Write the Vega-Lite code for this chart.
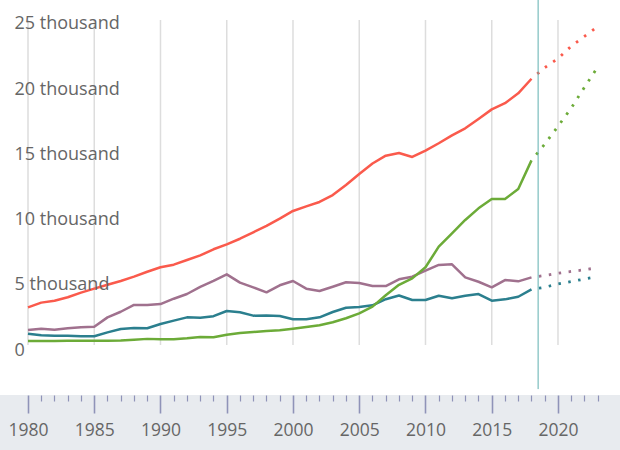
{
  "$schema": "https://vega.github.io/schema/vega-lite/v6.json",
  "autosize": "none",
  "width": 620,
  "height": 395,
  "padding": {"left": 0, "right": 0, "top": 0, "bottom": 55},
  "background": "#e8ebef",
  "config": {"font": "Open Sans", "view": {"fill": "white", "stroke": null}},
  "datasets": {
    "grid": [{"year": 1980}, {"year": 1985}, {"year": 1990}, {"year": 1995}, {"year": 2000}, {"year": 2005}, {"year": 2010}, {"year": 2015}, {"year": 2020}],
    "marker": [{"year": 2018.5}],
    "ylabels": [{"v": 0, "t": "0"}, {"v": 5, "t": "5 thousand"}, {"v": 10, "t": "10 thousand"}, {"v": 15, "t": "15 thousand"}, {"v": 20, "t": "20 thousand"}, {"v": 25, "t": "25 thousand"}],
    "series": [
      {"s": "red", "k": "actual", "year": 1980, "v": 3.12}, {"s": "red", "k": "actual", "year": 1981, "v": 3.48}, {"s": "red", "k": "actual", "year": 1982, "v": 3.63}, {"s": "red", "k": "actual", "year": 1983, "v": 3.89}, {"s": "red", "k": "actual", "year": 1984, "v": 4.25}, {"s": "red", "k": "actual", "year": 1985, "v": 4.55}, {"s": "red", "k": "actual", "year": 1986, "v": 4.85}, {"s": "red", "k": "actual", "year": 1987, "v": 5.14}, {"s": "red", "k": "actual", "year": 1988, "v": 5.47}, {"s": "red", "k": "actual", "year": 1989, "v": 5.85}, {"s": "red", "k": "actual", "year": 1990, "v": 6.19}, {"s": "red", "k": "actual", "year": 1991, "v": 6.39}, {"s": "red", "k": "actual", "year": 1992, "v": 6.75}, {"s": "red", "k": "actual", "year": 1993, "v": 7.1}, {"s": "red", "k": "actual", "year": 1994, "v": 7.57}, {"s": "red", "k": "actual", "year": 1995, "v": 7.95}, {"s": "red", "k": "actual", "year": 1996, "v": 8.38}, {"s": "red", "k": "actual", "year": 1997, "v": 8.87}, {"s": "red", "k": "actual", "year": 1998, "v": 9.36}, {"s": "red", "k": "actual", "year": 1999, "v": 9.92}, {"s": "red", "k": "actual", "year": 2000, "v": 10.51}, {"s": "red", "k": "actual", "year": 2001, "v": 10.86}, {"s": "red", "k": "actual", "year": 2002, "v": 11.2}, {"s": "red", "k": "actual", "year": 2003, "v": 11.73}, {"s": "red", "k": "actual", "year": 2004, "v": 12.5}, {"s": "red", "k": "actual", "year": 2005, "v": 13.35}, {"s": "red", "k": "actual", "year": 2006, "v": 14.15}, {"s": "red", "k": "actual", "year": 2007, "v": 14.75}, {"s": "red", "k": "actual", "year": 2008, "v": 14.95}, {"s": "red", "k": "actual", "year": 2009, "v": 14.65}, {"s": "red", "k": "actual", "year": 2010, "v": 15.13}, {"s": "red", "k": "actual", "year": 2011, "v": 15.7}, {"s": "red", "k": "actual", "year": 2012, "v": 16.31}, {"s": "red", "k": "actual", "year": 2013, "v": 16.85}, {"s": "red", "k": "actual", "year": 2014, "v": 17.56}, {"s": "red", "k": "actual", "year": 2015, "v": 18.3}, {"s": "red", "k": "actual", "year": 2016, "v": 18.77}, {"s": "red", "k": "actual", "year": 2017, "v": 19.53}, {"s": "red", "k": "actual", "year": 2018, "v": 20.65},
      {"s": "red", "k": "proj", "year": 2018, "v": 20.65}, {"s": "red", "k": "proj", "year": 2019, "v": 21.5}, {"s": "red", "k": "proj", "year": 2020, "v": 22.2}, {"s": "red", "k": "proj", "year": 2021, "v": 23.15}, {"s": "red", "k": "proj", "year": 2022, "v": 23.9}, {"s": "red", "k": "proj", "year": 2023, "v": 24.65},
      {"s": "purple", "k": "actual", "year": 1980, "v": 1.38}, {"s": "purple", "k": "actual", "year": 1981, "v": 1.48}, {"s": "purple", "k": "actual", "year": 1982, "v": 1.4}, {"s": "purple", "k": "actual", "year": 1983, "v": 1.51}, {"s": "purple", "k": "actual", "year": 1984, "v": 1.59}, {"s": "purple", "k": "actual", "year": 1985, "v": 1.63}, {"s": "purple", "k": "actual", "year": 1986, "v": 2.35}, {"s": "purple", "k": "actual", "year": 1987, "v": 2.78}, {"s": "purple", "k": "actual", "year": 1988, "v": 3.3}, {"s": "purple", "k": "actual", "year": 1989, "v": 3.3}, {"s": "purple", "k": "actual", "year": 1990, "v": 3.37}, {"s": "purple", "k": "actual", "year": 1991, "v": 3.78}, {"s": "purple", "k": "actual", "year": 1992, "v": 4.14}, {"s": "purple", "k": "actual", "year": 1993, "v": 4.68}, {"s": "purple", "k": "actual", "year": 1994, "v": 5.15}, {"s": "purple", "k": "actual", "year": 1995, "v": 5.65}, {"s": "purple", "k": "actual", "year": 1996, "v": 5.01}, {"s": "purple", "k": "actual", "year": 1997, "v": 4.65}, {"s": "purple", "k": "actual", "year": 1998, "v": 4.27}, {"s": "purple", "k": "actual", "year": 1999, "v": 4.81}, {"s": "purple", "k": "actual", "year": 2000, "v": 5.14}, {"s": "purple", "k": "actual", "year": 2001, "v": 4.55}, {"s": "purple", "k": "actual", "year": 2002, "v": 4.37}, {"s": "purple", "k": "actual", "year": 2003, "v": 4.7}, {"s": "purple", "k": "actual", "year": 2004, "v": 5.04}, {"s": "purple", "k": "actual", "year": 2005, "v": 4.98}, {"s": "purple", "k": "actual", "year": 2006, "v": 4.75}, {"s": "purple", "k": "actual", "year": 2007, "v": 4.75}, {"s": "purple", "k": "actual", "year": 2008, "v": 5.27}, {"s": "purple", "k": "actual", "year": 2009, "v": 5.47}, {"s": "purple", "k": "actual", "year": 2010, "v": 5.93}, {"s": "purple", "k": "actual", "year": 2011, "v": 6.37}, {"s": "purple", "k": "actual", "year": 2012, "v": 6.42}, {"s": "purple", "k": "actual", "year": 2013, "v": 5.42}, {"s": "purple", "k": "actual", "year": 2014, "v": 5.08}, {"s": "purple", "k": "actual", "year": 2015, "v": 4.65}, {"s": "purple", "k": "actual", "year": 2016, "v": 5.21}, {"s": "purple", "k": "actual", "year": 2017, "v": 5.11}, {"s": "purple", "k": "actual", "year": 2018, "v": 5.42},
      {"s": "purple", "k": "proj", "year": 2018, "v": 5.42}, {"s": "purple", "k": "proj", "year": 2019, "v": 5.56}, {"s": "purple", "k": "proj", "year": 2020, "v": 5.73}, {"s": "purple", "k": "proj", "year": 2021, "v": 5.87}, {"s": "purple", "k": "proj", "year": 2022, "v": 6.0}, {"s": "purple", "k": "proj", "year": 2023, "v": 6.16},
      {"s": "teal", "k": "actual", "year": 1980, "v": 1.1}, {"s": "teal", "k": "actual", "year": 1981, "v": 0.97}, {"s": "teal", "k": "actual", "year": 1982, "v": 0.94}, {"s": "teal", "k": "actual", "year": 1983, "v": 0.94}, {"s": "teal", "k": "actual", "year": 1984, "v": 0.9}, {"s": "teal", "k": "actual", "year": 1985, "v": 0.9}, {"s": "teal", "k": "actual", "year": 1986, "v": 1.2}, {"s": "teal", "k": "actual", "year": 1987, "v": 1.46}, {"s": "teal", "k": "actual", "year": 1988, "v": 1.53}, {"s": "teal", "k": "actual", "year": 1989, "v": 1.51}, {"s": "teal", "k": "actual", "year": 1990, "v": 1.84}, {"s": "teal", "k": "actual", "year": 1991, "v": 2.1}, {"s": "teal", "k": "actual", "year": 1992, "v": 2.35}, {"s": "teal", "k": "actual", "year": 1993, "v": 2.32}, {"s": "teal", "k": "actual", "year": 1994, "v": 2.44}, {"s": "teal", "k": "actual", "year": 1995, "v": 2.84}, {"s": "teal", "k": "actual", "year": 1996, "v": 2.74}, {"s": "teal", "k": "actual", "year": 1997, "v": 2.48}, {"s": "teal", "k": "actual", "year": 1998, "v": 2.5}, {"s": "teal", "k": "actual", "year": 1999, "v": 2.45}, {"s": "teal", "k": "actual", "year": 2000, "v": 2.2}, {"s": "teal", "k": "actual", "year": 2001, "v": 2.2}, {"s": "teal", "k": "actual", "year": 2002, "v": 2.35}, {"s": "teal", "k": "actual", "year": 2003, "v": 2.76}, {"s": "teal", "k": "actual", "year": 2004, "v": 3.09}, {"s": "teal", "k": "actual", "year": 2005, "v": 3.14}, {"s": "teal", "k": "actual", "year": 2006, "v": 3.27}, {"s": "teal", "k": "actual", "year": 2007, "v": 3.74}, {"s": "teal", "k": "actual", "year": 2008, "v": 4.03}, {"s": "teal", "k": "actual", "year": 2009, "v": 3.68}, {"s": "teal", "k": "actual", "year": 2010, "v": 3.68}, {"s": "teal", "k": "actual", "year": 2011, "v": 4.01}, {"s": "teal", "k": "actual", "year": 2012, "v": 3.81}, {"s": "teal", "k": "actual", "year": 2013, "v": 4.01}, {"s": "teal", "k": "actual", "year": 2014, "v": 4.14}, {"s": "teal", "k": "actual", "year": 2015, "v": 3.63}, {"s": "teal", "k": "actual", "year": 2016, "v": 3.73}, {"s": "teal", "k": "actual", "year": 2017, "v": 3.93}, {"s": "teal", "k": "actual", "year": 2018, "v": 4.5},
      {"s": "teal", "k": "proj", "year": 2018, "v": 4.5}, {"s": "teal", "k": "proj", "year": 2019, "v": 4.66}, {"s": "teal", "k": "proj", "year": 2020, "v": 4.91}, {"s": "teal", "k": "proj", "year": 2021, "v": 5.1}, {"s": "teal", "k": "proj", "year": 2022, "v": 5.29}, {"s": "teal", "k": "proj", "year": 2023, "v": 5.48},
      {"s": "green", "k": "actual", "year": 1980, "v": 0.54}, {"s": "green", "k": "actual", "year": 1981, "v": 0.54}, {"s": "green", "k": "actual", "year": 1982, "v": 0.54}, {"s": "green", "k": "actual", "year": 1983, "v": 0.55}, {"s": "green", "k": "actual", "year": 1984, "v": 0.55}, {"s": "green", "k": "actual", "year": 1985, "v": 0.55}, {"s": "green", "k": "actual", "year": 1986, "v": 0.55}, {"s": "green", "k": "actual", "year": 1987, "v": 0.57}, {"s": "green", "k": "actual", "year": 1988, "v": 0.64}, {"s": "green", "k": "actual", "year": 1989, "v": 0.7}, {"s": "green", "k": "actual", "year": 1990, "v": 0.67}, {"s": "green", "k": "actual", "year": 1991, "v": 0.68}, {"s": "green", "k": "actual", "year": 1992, "v": 0.74}, {"s": "green", "k": "actual", "year": 1993, "v": 0.85}, {"s": "green", "k": "actual", "year": 1994, "v": 0.82}, {"s": "green", "k": "actual", "year": 1995, "v": 1.02}, {"s": "green", "k": "actual", "year": 1996, "v": 1.15}, {"s": "green", "k": "actual", "year": 1997, "v": 1.23}, {"s": "green", "k": "actual", "year": 1998, "v": 1.3}, {"s": "green", "k": "actual", "year": 1999, "v": 1.36}, {"s": "green", "k": "actual", "year": 2000, "v": 1.48}, {"s": "green", "k": "actual", "year": 2001, "v": 1.61}, {"s": "green", "k": "actual", "year": 2002, "v": 1.74}, {"s": "green", "k": "actual", "year": 2003, "v": 1.97}, {"s": "green", "k": "actual", "year": 2004, "v": 2.28}, {"s": "green", "k": "actual", "year": 2005, "v": 2.66}, {"s": "green", "k": "actual", "year": 2006, "v": 3.17}, {"s": "green", "k": "actual", "year": 2007, "v": 4.04}, {"s": "green", "k": "actual", "year": 2008, "v": 4.85}, {"s": "green", "k": "actual", "year": 2009, "v": 5.34}, {"s": "green", "k": "actual", "year": 2010, "v": 6.19}, {"s": "green", "k": "actual", "year": 2011, "v": 7.77}, {"s": "green", "k": "actual", "year": 2012, "v": 8.79}, {"s": "green", "k": "actual", "year": 2013, "v": 9.82}, {"s": "green", "k": "actual", "year": 2014, "v": 10.71}, {"s": "green", "k": "actual", "year": 2015, "v": 11.43}, {"s": "green", "k": "actual", "year": 2016, "v": 11.43}, {"s": "green", "k": "actual", "year": 2017, "v": 12.19}, {"s": "green", "k": "actual", "year": 2018, "v": 14.39},
      {"s": "green", "k": "proj", "year": 2018, "v": 14.39}, {"s": "green", "k": "proj", "year": 2019, "v": 15.64}, {"s": "green", "k": "proj", "year": 2020, "v": 17.0}, {"s": "green", "k": "proj", "year": 2021, "v": 18.4}, {"s": "green", "k": "proj", "year": 2022, "v": 20.0}, {"s": "green", "k": "proj", "year": 2023, "v": 21.55}
    ]
  },
  "encoding": {
    "x": {
      "field": "year", "type": "quantitative",
      "scale": {"domain": [1977.887, 2024.68], "nice": false, "zero": false},
      "axis": {
        "title": null, "domain": false, "grid": false, "format": "d",
        "values": [1980, 1981, 1982, 1983, 1984, 1985, 1986, 1987, 1988, 1989, 1990, 1991, 1992, 1993, 1994, 1995, 1996, 1997, 1998, 1999, 2000, 2001, 2002, 2003, 2004, 2005, 2006, 2007, 2008, 2009, 2010, 2011, 2012, 2013, 2014, 2015, 2016, 2017, 2018, 2019, 2020, 2021, 2022, 2023],
        "labelExpr": "datum.value % 5 === 0 ? datum.label : ''",
        "tickColor": "#8f93b8",
        "tickSize": {"condition": {"test": "datum.value % 5 === 0", "value": 18}, "value": 6},
        "tickWidth": {"condition": {"test": "datum.value % 5 === 0", "value": 1.6}, "value": 1.2},
        "labelPadding": 22, "labelBaseline": "alphabetic",
        "labelFontSize": 17.5, "labelColor": "#666666", "labelFont": "Open Sans",
        "labelFlush": false, "labelOverlap": false
      }
    }
  },
  "layer": [
    {
      "data": {"name": "grid"},
      "mark": {"type": "rule", "color": "#dddddd", "strokeWidth": 1.5},
      "encoding": {"y": {"datum": 0.23, "type": "quantitative"}, "y2": {"datum": 25.15}}
    },
    {
      "data": {"name": "series"},
      "transform": [{"filter": "datum.k === 'actual'"}],
      "mark": {"type": "line", "strokeWidth": 2.5, "strokeJoin": "round"},
      "encoding": {
        "y": {
          "field": "v", "type": "quantitative",
          "scale": {"domain": [-3.604, 26.687], "nice": false, "zero": false},
          "axis": {
            "title": null, "domain": false, "ticks": false, "tickSize": 0, "grid": false, "zindex": 1,
            "values": [0, 5, 10, 15, 20, 25],
            "labelExpr": "datum.value === 0 ? '0' : datum.value + ' thousand'",
            "labelAlign": "left", "labelBaseline": "middle", "labelPadding": -14, "labelOffset": 2,
            "labelFontSize": 18, "labelColor": "#666666", "labelFont": "Open Sans"
          }
        },
        "color": {"field": "s", "type": "nominal", "legend": null,
          "scale": {"domain": ["red", "purple", "teal", "green"], "range": ["#fa5a4c", "#a0718e", "#2b7f8e", "#6cab38"]}},
        "detail": {"field": "s"}
      }
    },
    {
      "data": {"name": "series"},
      "transform": [{"filter": "datum.k === 'proj'"}],
      "mark": {"type": "line", "strokeWidth": 2.8, "strokeDash": [2.5, 7.5], "strokeDashOffset": 2.5},
      "encoding": {
        "y": {"field": "v", "type": "quantitative"},
        "color": {"field": "s", "type": "nominal", "legend": null},
        "detail": {"field": "s"}
      }
    },
    {
      "data": {"name": "marker"},
      "mark": {"type": "rule", "color": "#5fb0b0", "strokeWidth": 1},
      "encoding": {"y": {"datum": 26.687, "type": "quantitative"}, "y2": {"datum": -3.15}}
    },
    {
      "data": {"name": "ylabels"},
      "mark": {"type": "text", "align": "left", "baseline": "middle", "dy": 2, "font": "Open Sans", "fontSize": 18, "fill": "white", "stroke": "white", "strokeWidth": 8, "strokeJoin": "round"},
      "encoding": {"x": {"datum": 1978.944, "type": "quantitative"}, "y": {"field": "v", "type": "quantitative"}, "text": {"field": "t"}}
    }
  ]
}
